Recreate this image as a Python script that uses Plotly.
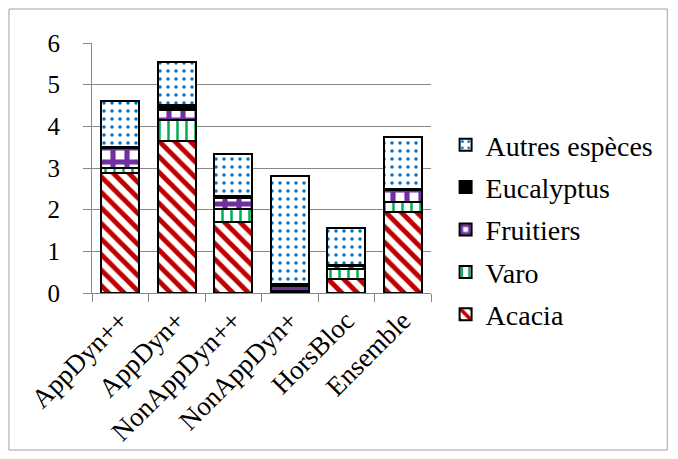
import plotly.graph_objects as go

categories = ["AppDyn++", "AppDyn+", "NonAppDyn++", "NonAppDyn+", "HorsBloc", "Ensemble"]
acacia = [2.88, 3.65, 1.71, 0.03, 0.33, 1.95]
varo = [0.12, 0.50, 0.30, 0.03, 0.25, 0.24]
fruitiers = [0.48, 0.24, 0.28, 0.12, 0.07, 0.28]
eucalyptus = [0.02, 0.13, 0.03, 0.03, 0.03, 0.03]
autres = [1.10, 1.03, 1.01, 2.59, 0.89, 1.25]
y_ticks = [0, 1, 2, 3, 4, 5, 6]

FONT = "Liberation Serif"

series = [
    ("Acacia", acacia, dict(shape="\\", fgcolor="#c00000", bgcolor="white", size=11, solidity=0.45)),
    ("Varo", varo, dict(shape="|", fgcolor="#00b050", bgcolor="white", size=9, solidity=0.28)),
    ("Fruitiers", fruitiers, dict(shape="+", fgcolor="#7030a0", bgcolor="white", size=14, solidity=0.6)),
    ("Eucalyptus", eucalyptus, None),
    ("Autres espèces", autres, dict(shape=".", fgcolor="#0070c0", bgcolor="white", size=8, solidity=0.15)),
]

fig = go.Figure()
n = len(series)
for i, (name, vals, pat) in enumerate(series):
    marker = dict(line=dict(color="black", width=2))
    if pat is None:
        marker["color"] = "black"
    else:
        marker["color"] = "white"
        marker["pattern"] = dict(fgopacity=1, **pat)
    fig.add_trace(go.Bar(x=categories, y=vals, name=name, marker=marker,
                         legendgroup=f"g{i}", legendrank=100 * (n - i)))

# page body has an 8px margin; figure fills 678x459 window exactly
fig.update_layout(
    width=662, height=443,
    barmode="stack", bargap=0.33,
    paper_bgcolor="white", plot_bgcolor="white",
    margin=dict(l=84, r=238, t=35, b=158),
    font=dict(family=FONT, size=27, color="black"),
    legend=dict(traceorder="grouped", x=1.04, y=0.254, yanchor="middle", xanchor="left",
                font=dict(family=FONT, size=28, color="black"), itemwidth=30,
                tracegroupgap=3, bgcolor="rgba(0,0,0,0)"),
    showlegend=True,
    shapes=[dict(type="rect", xref="paper", yref="paper", x0=-0.245, x1=1.697, y0=-0.628, y1=1.136,
                 line=dict(color="#a0a0a0", width=1), fillcolor="rgba(0,0,0,0)", layer="below")],
)
fig.update_xaxes(showline=True, linecolor="#888888", linewidth=1, ticks="outside", tickson="boundaries",
                 ticklen=8, tickcolor="#888888", tickangle=-45, automargin=False,
                 tickfont=dict(family=FONT, size=27, color="black"), showgrid=False)
fig.update_yaxes(range=[0, 6], tickvals=y_ticks, showgrid=True, gridcolor="#888888", gridwidth=1,
                 showline=True, linecolor="#888888", linewidth=1, ticks="outside", ticklen=8,
                 tickcolor="#888888", zeroline=False, automargin=False,
                 tickfont=dict(family=FONT, size=25, color="black"), ticklabelstandoff=18)

fig.write_html("out.html")
